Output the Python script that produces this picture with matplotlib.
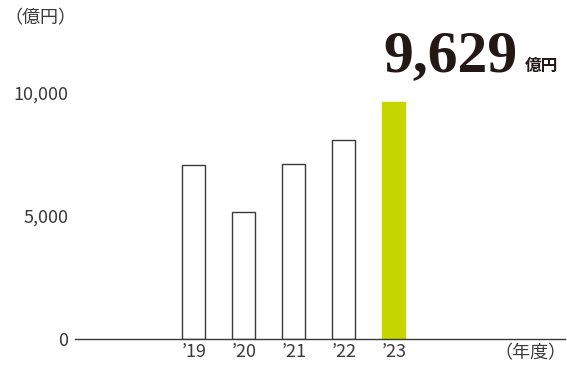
import matplotlib
matplotlib.use("Agg")
import matplotlib.pyplot as plt
import numpy as np

plt.rcParams['font.family'] = ['Noto Sans CJK JP', 'DejaVu Sans']

years = ["’19", "’20", "’21", "’22", "’23"]
sales = [7070, 5160, 7100, 8080, 9629]
yticks = [0, 5000, 10000]
ytick_labels = ["0", "5,000", "10,000"]

text_color = "#3a3a3a"
green = "#c5d600"

fig = plt.figure(figsize=(5.67, 3.65), dpi=100)
ax = fig.add_axes([75 / 567, 26 / 365, 490 / 567, 246 / 365])

x = np.arange(len(years))
colors = ["white"] * (len(years) - 1) + [green]
edges = [text_color] * (len(years) - 1) + [green]
ax.bar(x, sales, width=0.46, color=colors, edgecolor=edges, linewidth=1.0, zorder=2)

ax.set_xlim(-2.38, 7.42)
ax.set_ylim(0, 10000)
ax.set_xticks(x)
ax.set_xticklabels(years, fontsize=13, color=text_color)
ax.set_yticks(yticks)
ax.set_yticklabels(ytick_labels, fontsize=13, color=text_color)
ax.tick_params(axis='x', length=0, pad=3)
ax.tick_params(axis='y', length=0, pad=5)
for s in ["top", "right", "left"]:
    ax.spines[s].set_visible(False)
ax.spines["bottom"].set_color(text_color)
ax.spines["bottom"].set_linewidth(1.0)

fig.text(4 / 567, 1 - 18 / 365, "（億円）", fontsize=13, color=text_color, va="center", ha="left")
fig.text(566 / 567, 1 - 353 / 365, "（年度）", fontsize=13, color=text_color, va="center", ha="right")

fig.text(518 / 567, 1 - 71 / 365, "9,629", fontsize=43, fontweight="bold",
         family="Liberation Serif", color="#231815", ha="right", va="baseline")
fig.text(525 / 567, 1 - 71 / 365, "億円", fontsize=12, fontweight="bold",
         color="#231815", ha="left", va="baseline")

fig.savefig("out.png", dpi=100)
